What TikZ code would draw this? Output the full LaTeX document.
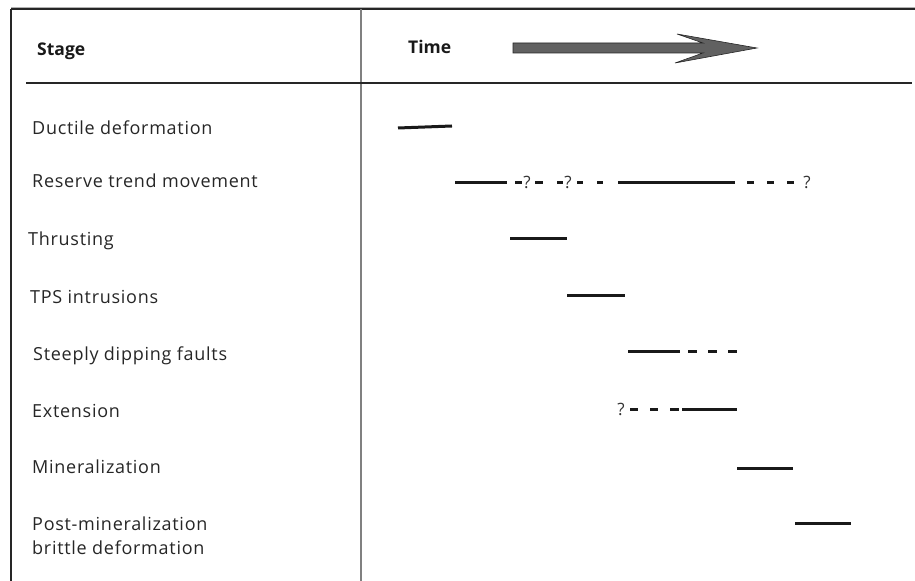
\documentclass[tikz,border=0pt]{standalone}
\usepackage{fontspec}
\setmainfont{Open Sans}
\newfontfamily\labfont{Open Sans}[LetterSpace=4]
\begin{document}
\begin{tikzpicture}[x=1bp,y=-1bp,
  rule/.style={draw=black!85,line width=1.3bp},
  lab/.style={anchor=base west,inner sep=0pt,font=\labfont\fontsize{18bp}{24bp}\selectfont,text=black!85},
  head/.style={anchor=base west,inner sep=0pt,font=\fontsize{17.5bp}{20bp}\selectfont\bfseries,text=black!90},
  qm/.style={anchor=base,inner sep=0pt,font=\labfont\fontsize{17bp}{20bp}\selectfont,text=black!80},
  bar/.style={draw=black!90,line width=3bp},
  dsh/.style={draw=black!90,line width=3bp}]
\useasboundingbox (0,0) rectangle (915,581);
% table rules
\coordinate (tl) at (11,9);
\coordinate (tr) at (915,9);
\coordinate (bl) at (11,581);
\coordinate (st) at (361,9);
\coordinate (sb) at (361,581);
\coordinate (hl) at (26,83);
\coordinate (hr) at (912,83);
\draw[draw=black!30,line width=1bp] (11,7.5) -- (915,7.5);
\draw[rule] (tl) -- (tr);
\draw[rule] (tl) -- (bl);
\draw[draw=black!50,line width=1.5bp] (st) -- (sb);
\draw[rule] (hl) -- (hr);
% headers
\node[head] (stage) at (37,56) {Stage};
\node[head] (time) at (408,54) {Time};
% arrow
\draw[fill=black!62,draw=black!85,line width=0.6bp]
  (513,43) -- (703,43) -- (677,34) -- (757,48) -- (675,63) -- (703,53) -- (513,53) -- cycle;
% labels
\node[lab] (l1) at (32,135) {Ductile deformation};
\node[lab] (l2) at (32,188) {Reserve trend movement};
\node[lab] (l3) at (28,246) {Thrusting};
\node[lab] (l4) at (30,303) {TPS intrusions};
\node[lab] (l5) at (33,360) {Steeply dipping faults};
\node[lab] (l6) at (32,417) {Extension};
\node[lab] (l7) at (32,473) {Mineralization};
\node[lab,align=left,anchor=north west] (l8) at (32,517) {Post-mineralization\\brittle deformation};
% Ductile
\draw[bar] (398,128) -- (452,126);
% Reserve trend movement
\draw[bar] (455,183) -- (507,183);
\draw[dsh] (515,183) -- (522,183);
\node[qm] (q1) at (527,189) {?};
\draw[dsh] (535,183) -- (543,183);
\draw[dsh] (557,183) -- (563,183);
\node[qm] (q2) at (568,189) {?};
\draw[dsh] (577,183) -- (583,183);
\draw[dsh] (597,183) -- (603,183);
\draw[bar] (618,183) -- (735,183);
\draw[dsh] (747,183) -- (754,183);
\draw[dsh] (767,183) -- (774,183);
\draw[dsh] (787,183) -- (794,183);
\node[qm] (q3) at (807,189) {?};
% Thrusting
\draw[bar] (510,239) -- (567,239);
% TPS
\draw[bar] (567,295) -- (625,295);
% Steeply dipping faults
\draw[bar] (628,351) -- (680,351);
\draw[dsh] (688,351) -- (697,351);
\draw[dsh] (708,351) -- (717,351);
\draw[dsh] (728,351) -- (737,351);
% Extension
\node[qm] (q4) at (621,415) {?};
\draw[dsh] (630,409) -- (638,409);
\draw[dsh] (650,409) -- (658,409);
\draw[dsh] (670,409) -- (679,409);
\draw[bar] (682,409) -- (737,409);
% Mineralization
\draw[bar] (737,468) -- (793,468);
% Post-mineralization
\draw[bar] (795,523) -- (851,523);
\end{tikzpicture}
\end{document}
